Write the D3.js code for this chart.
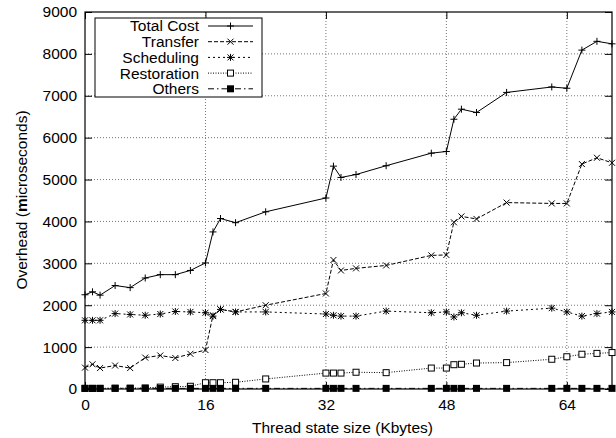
<!DOCTYPE html>
<html>
<head>
<meta charset="utf-8">
<script src="https://cdn.jsdelivr.net/npm/d3@7"></script>
<style>
  body { margin: 0; background: #fff; }
  svg { font-family: "Liberation Sans", Arial, sans-serif; }
</style>
</head>
<body>
<div id="chart"></div>
<script>
// Thread state sizes (Kbytes)
var sizes = [0, 1, 2, 4, 6, 8, 10, 12, 14, 16, 17, 18, 20, 24, 32, 33, 34, 36, 40, 46, 48, 49, 50, 52, 56, 62, 64, 66, 68, 70];

// Overhead (microseconds)
var totalCost = [2250, 2320, 2240, 2470, 2420, 2650, 2730, 2730, 2830, 3010, 3750, 4070, 3970,
  4230, 4560, 5320, 5050, 5120, 5330, 5630, 5670, 6440, 6680, 6600, 7080, 7210, 7180, 8090, 8300, 8240];
var transfer = [510, 590, 500, 560, 500, 750, 800, 740, 840, 930, 1760, 1900, 1840,
  2000, 2280, 3080, 2830, 2880, 2950, 3190, 3200, 3980, 4120, 4060, 4450, 4430, 4430, 5370, 5520, 5400];
var scheduling = [1640, 1640, 1640, 1800, 1780, 1760, 1790, 1850, 1840, 1820, 1740, 1900, 1840,
  1840, 1790, 1760, 1740, 1740, 1860, 1820, 1840, 1720, 1820, 1760, 1860, 1930, 1840, 1740, 1800, 1840];
var restoration = [15, 15, 15, 20, 20, 25, 45, 55, 65, 150, 150, 150, 160,
  240, 380, 380, 380, 400, 390, 500, 500, 580, 590, 620, 630, 710, 770, 830, 850, 870];
var others = [15, 15, 15, 15, 15, 15, 15, 15, 15, 15, 15, 15, 15,
  15, 15, 15, 15, 15, 15, 15, 15, 15, 15, 15, 15, 15, 15, 15, 15, 15];

var seriesNames = ["Total Cost", "Transfer", "Scheduling", "Restoration", "Others"];
var xTicks = [0, 16, 32, 48, 64];
var yTicks = [0, 1000, 2000, 3000, 4000, 5000, 6000, 7000, 8000, 9000];

var width = 616, height = 438;
var plotLeft = 85, plotRight = 612, plotTop = 12, plotBottom = 389;
var fontSize = 15.5;

var svg = d3.select("#chart").append("svg")
  .attr("width", width)
  .attr("height", height);

var x = d3.scaleLinear().domain([0, 70]).range([plotLeft, plotRight]);
var y = d3.scaleLinear().domain([0, 9000]).range([plotBottom, plotTop]);

// grid
var grid = svg.append("g");
grid.selectAll(".gy").data(yTicks.slice(1, -1)).enter().append("line")
  .attr("x1", plotLeft).attr("x2", plotRight)
  .attr("y1", d => y(d)).attr("y2", d => y(d))
  .attr("stroke", "#777").attr("stroke-width", 1).attr("stroke-dasharray", "1,2");
grid.selectAll(".gx").data(xTicks.slice(1)).enter().append("line")
  .attr("x1", d => x(d)).attr("x2", d => x(d))
  .attr("y1", plotTop).attr("y2", plotBottom)
  .attr("stroke", "#777").attr("stroke-width", 1).attr("stroke-dasharray", "1,2");

// axes with inward ticks, gnuplot style
var tickLen = 7;
var gLeft = svg.append("g").attr("transform", "translate(" + plotLeft + ",0)")
  .call(d3.axisLeft(y).tickValues(yTicks).tickFormat(d3.format("d")).tickSize(-tickLen).tickPadding(8));
var gRight = svg.append("g").attr("transform", "translate(" + plotRight + ",0)")
  .call(d3.axisRight(y).tickValues(yTicks).tickSize(-tickLen).tickFormat(""));
var gBottom = svg.append("g").attr("transform", "translate(0," + plotBottom + ")")
  .call(d3.axisBottom(x).tickValues(xTicks).tickFormat(d3.format("d")).tickSize(-tickLen).tickPadding(10));
var gTop = svg.append("g").attr("transform", "translate(0," + plotTop + ")")
  .call(d3.axisTop(x).tickValues(xTicks).tickSize(-tickLen).tickFormat(""));

[gLeft, gRight, gBottom, gTop].forEach(function(g) {
  g.select(".domain").remove();
  g.selectAll("line").attr("stroke", "#000");
  g.selectAll("text").attr("font-size", fontSize).attr("fill", "#000")
    .attr("font-family", "'Liberation Sans', Arial, sans-serif");
});

svg.append("rect")
  .attr("x", plotLeft).attr("y", plotTop)
  .attr("width", plotRight - plotLeft).attr("height", plotBottom - plotTop)
  .attr("fill", "none").attr("stroke", "#000").attr("stroke-width", 1.2);

// axis titles
svg.append("text")
  .attr("x", (plotLeft + plotRight) / 2 - 6).attr("y", 433)
  .attr("text-anchor", "middle").attr("font-size", fontSize)
  .text("Thread state size (Kbytes)");

var yl = svg.append("text")
  .attr("transform", "translate(27," + 200 + ") rotate(-90)")
  .attr("text-anchor", "middle").attr("font-size", fontSize);
yl.append("tspan").text("Overhead (");
yl.append("tspan").attr("font-weight", "bold").text("m");
yl.append("tspan").text("icroseconds)");

// markers
function plus(g, cx, cy) {
  g.append("path").attr("d", "M" + (cx - 3.5) + "," + cy + "h7M" + cx + "," + (cy - 3.5) + "v7")
    .attr("stroke", "#000").attr("stroke-width", 1).attr("fill", "none");
}
function cross(g, cx, cy) {
  g.append("path").attr("d", "M" + (cx - 3) + "," + (cy - 3) + "l6,6M" + (cx - 3) + "," + (cy + 3) + "l6,-6")
    .attr("stroke", "#000").attr("stroke-width", 1).attr("fill", "none");
}
function star(g, cx, cy) {
  plus(g, cx, cy);
  cross(g, cx, cy);
}
function box(g, cx, cy) {
  g.append("rect").attr("x", cx - 3).attr("y", cy - 3).attr("width", 6).attr("height", 6)
    .attr("fill", "#fff").attr("stroke", "#000").attr("stroke-width", 1);
}
function filledBox(g, cx, cy) {
  g.append("rect").attr("x", cx - 3.5).attr("y", cy - 3.5).attr("width", 7).attr("height", 7)
    .attr("fill", "#000");
}

var series = [
  { name: seriesNames[0], values: totalCost, dash: null, marker: plus },
  { name: seriesNames[1], values: transfer, dash: "4,2", marker: cross },
  { name: seriesNames[2], values: scheduling, dash: "2,3", marker: star },
  { name: seriesNames[3], values: restoration, dash: "1,1.5", marker: box },
  { name: seriesNames[4], values: others, dash: "6,3,1.5,3", marker: filledBox }
];

var line = d3.line()
  .x((d, i) => x(sizes[i]))
  .y(d => y(d));

// plot order as in gnuplot: later series on top
series.forEach(function(s) {
  var g = svg.append("g");
  g.append("path")
    .datum(s.values)
    .attr("d", line)
    .attr("fill", "none")
    .attr("stroke", "#000")
    .attr("stroke-width", 1)
    .attr("stroke-dasharray", s.dash);
  s.values.forEach(function(v, i) {
    s.marker(g, x(sizes[i]), y(v));
  });
});

// legend
var lg = svg.append("g");
lg.append("rect")
  .attr("x", 95).attr("y", 18).attr("width", 167).attr("height", 79)
  .attr("fill", "#fff").attr("stroke", "#000").attr("stroke-width", 1);
series.forEach(function(s, i) {
  var ly = 26 + i * 15.7;
  lg.append("text")
    .attr("x", 199).attr("y", ly).attr("dy", "0.35em")
    .attr("text-anchor", "end").attr("font-size", fontSize)
    .text(s.name);
  lg.append("line")
    .attr("x1", 208).attr("x2", 253).attr("y1", ly).attr("y2", ly)
    .attr("stroke", "#000").attr("stroke-width", 1)
    .attr("stroke-dasharray", s.dash);
  s.marker(lg, 230.5, ly);
});
</script>
</body>
</html>
